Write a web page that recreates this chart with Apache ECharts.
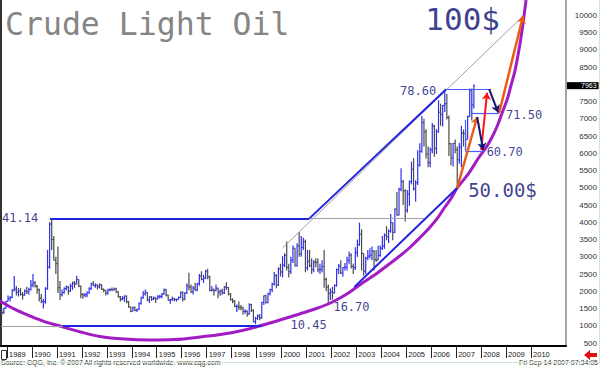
<!DOCTYPE html>
<html><head><meta charset="utf-8">
<script src="https://cdn.jsdelivr.net/npm/echarts@6/dist/echarts.min.js"></script>
<style>html,body{margin:0;padding:0;background:#fff;}#c{width:600px;height:370px;}</style>
</head><body><div id="c"></div>
<script>
// ---------- DATA (prices in cents, monthly bars Oct 1988 .. Sep 2007) ----------
const startYear = 1988, startMonth = 10;
const opens = [
 1470,1380,1510,
 1710,1790,1820,2030,2060,1970,2010,1910,1890,2010,1990,2050,
 2180,2240,2150,2040,1800,1700,1700,2070,2700,3950,3500,2900,
 2800,2100,1900,1960,2080,2120,2000,2150,2240,2210,2340,2150,
 1910,1890,1900,1950,2080,2220,2160,2180,2130,2190,2060,2030,
 1950,2030,2050,2040,2070,1990,1840,1770,1800,1860,1690,1540,
 1420,1520,1450,1470,1640,1810,1920,1970,1750,1840,1770,1810,
 1780,1840,1850,1920,2040,1890,1740,1760,1780,1760,1760,1820,
 1960,1770,1950,2150,2120,1980,2090,2040,2220,2440,2340,2380,
 2590,2420,2030,2040,2020,2090,1980,2010,1960,2120,2110,1920,
 1760,1720,1560,1560,1540,1520,1420,1420,1340,1610,1440,1120,
 1210,1280,1230,1680,1870,1680,1930,2050,2210,2450,2180,2650,
 2560,2760,3040,2690,2570,2900,3250,2740,3310,3080,3270,3440,
 2680,2870,2740,2630,2850,2840,2620,2640,2720,2340,2120,1940,
 1980,1950,2170,2630,2730,2530,2690,2700,2900,3050,2720,2690,
 3120,3350,3660,3100,2580,2960,3020,3050,3160,2920,2910,3040,
 3250,3310,3620,3580,3740,3990,3710,4380,4210,4960,5180,4910,
 4350,4820,5180,5540,4970,5150,5660,6060,6890,6620,5980,5730,
 6100,6790,6140,6630,7190,7130,7390,7440,7040,6280,5870,6290,
 6105,5814,6180,6590,6570,6400,7070,7820,7400
];
const highs = [
 1500,1520,1720,
 1880,1860,2060,2440,2150,2100,2100,1980,2050,2130,2100,2330,
 2500,2300,2180,2080,1920,1780,2120,3200,4000,4114,3600,3000,
 3300,2300,2050,2120,2170,2150,2220,2280,2300,2450,2350,2170,
 1950,1950,2000,2120,2250,2300,2230,2200,2230,2200,2080,2040,
 2070,2090,2110,2110,2100,2000,1860,1860,1880,1880,1720,1560,
 1560,1560,1500,1680,1850,2010,2050,1980,1850,1860,1850,1830,
 1890,1900,1950,2080,2070,1900,1780,1850,1810,1790,1850,1990,
 2000,1970,2230,2540,2200,2150,2250,2250,2500,2580,2480,2620,
 2650,2450,2150,2080,2200,2100,2050,2070,2150,2260,2120,1950,
 1800,1740,1620,1700,1600,1550,1480,1450,1650,1640,1480,1260,
 1330,1340,1690,1880,1900,1960,2070,2250,2560,2500,2700,2800,
 3020,3100,3440,2800,3000,3330,3250,3390,3720,3600,3550,3500,
 3200,3200,2950,2900,2960,2950,2800,2900,3200,2400,2200,2080,
 2130,2200,2660,2790,2900,2700,2820,3000,3150,3100,2800,3280,
 3500,3990,3800,3100,3000,3200,3250,3300,3200,3200,3320,3330,
 3600,3680,3890,3800,4238,4000,4400,4880,5000,5567,5230,4960,
 4940,5210,5760,5860,5220,6090,6290,7085,7000,6700,6200,6170,
 6880,6830,6700,7540,7440,7400,7860,7720,7100,6300,6300,6400,
 6200,6300,6800,6690,6700,7100,7877,7880,8000
];
const lows = [
 1300,1340,1490,
 1700,1700,1800,1990,1880,1850,1870,1760,1870,1920,1900,2020,
 2120,2110,1930,1700,1650,1500,1640,2050,2650,3200,2900,2500,
 1950,1750,1850,1930,2020,1900,1980,2040,2100,2200,2120,1800,
 1780,1830,1830,1930,2040,2150,2100,2050,2080,2040,1970,1880,
 1900,2000,2000,2020,1950,1810,1700,1740,1690,1650,1520,1390,
 1410,1420,1400,1460,1620,1780,1880,1710,1660,1720,1750,1660,
 1760,1790,1800,1900,1850,1730,1640,1720,1710,1700,1750,1800,
 1700,1740,1920,2030,1950,1910,2010,2000,2160,2320,2240,2350,
 2350,2000,1990,1880,2000,1800,1870,1890,1920,2040,1880,1730,
 1650,1540,1400,1460,1450,1320,1350,1260,1320,1400,1100,1045,
 1170,1160,1200,1600,1640,1650,1880,1970,2170,2090,2150,2430,
 2400,2700,2600,2400,2500,2820,2720,2720,3000,3000,3200,2550,
 2600,2700,2500,2550,2700,2550,2500,2550,2100,2000,1670,1750,
 1760,1940,2130,2500,2500,2420,2600,2600,2800,2660,2500,2620,
 3000,3320,2600,2450,2500,2900,2950,2900,2600,2850,2900,3000,
 3200,3230,3480,3400,3700,3480,3690,4200,4200,4900,4500,4025,
 4280,4480,5100,4920,4600,5080,5620,6020,6200,5850,5600,5600,
 6000,5900,5980,6600,6800,6780,7200,6980,5920,5655,5620,6000,
 5000,5700,5600,6200,6100,6400,7050,6950,7300
];
const closes = [
 1380,1510,1710,
 1790,1820,2030,2060,1970,2010,1910,1890,2010,1990,2050,2180,
 2240,2150,2040,1800,1700,1700,2070,2700,3950,3500,2900,2800,
 2100,1900,1960,2080,2120,2000,2150,2240,2210,2340,2150,1910,
 1890,1900,1950,2080,2220,2160,2180,2130,2190,2060,2030,1950,
 2030,2050,2040,2070,1990,1840,1770,1800,1860,1690,1540,1420,
 1520,1450,1470,1640,1810,1920,1970,1750,1840,1770,1810,1780,
 1840,1850,1920,2040,1890,1740,1760,1780,1760,1760,1820,1960,
 1770,1950,2150,2120,1980,2090,2040,2220,2440,2340,2380,2590,
 2420,2030,2040,2020,2090,1980,2010,1960,2120,2110,1920,1760,
 1720,1560,1560,1540,1520,1420,1420,1340,1610,1440,1120,1210,
 1280,1230,1680,1870,1680,1930,2050,2210,2450,2180,2650,2560,
 2760,3040,2690,2570,2900,3250,2740,3310,3080,3270,3440,2680,
 2870,2740,2630,2850,2840,2620,2640,2720,2340,2120,1940,1980,
 1950,2170,2630,2730,2530,2690,2700,2900,3050,2720,2690,3120,
 3350,3660,3100,2580,2960,3020,3050,3160,2920,2910,3040,3250,
 3310,3620,3580,3740,3990,3710,4380,4210,4960,5180,4910,4350,
 4820,5180,5540,4970,5150,5660,6060,6890,6620,5980,5730,6100,
 6790,6140,6630,7190,7130,7390,7440,7040,6280,5870,6290,6105,
 5814,6180,6590,6570,6400,7070,7820,7400,7963
];
const lastPrice = 7963;
const yearTicks = [1989,1990,1991,1992,1993,1994,1995,1996,1997,1998,1999,2000,2001,2002,2003,2004,2005,2006,2007,2008,2009,2010];
const priceTicks = [500,1000,1500,2000,2500,3000,3500,4000,4500,5000,5500,6000,6500,7000,7500,8500,9000,9500,10000];

// parabolic support curve (year, price)
const curveYears  = [1988.72,1989.3,1989.92,1990.5,1991.12,1992.0,1992.72,1993.7,1994.72,1995.7,1996.72,1998.0,1999.12,2000.0,2000.72,2001.4,2002.04,2002.7,2003.24,2003.8,2004.32,2004.8,2005.12,2005.5,2005.92,2006.25,2006.52,2006.8,2007.04,2007.5,2007.92,2008.2,2008.44,2008.65,2008.84,2009.05,2009.2,2009.35,2009.44,2009.55,2009.64,2009.72,2009.8];
const curveValues = [1718,1480,1283,1120,993,810,690,615,587,600,674,800,993,1180,1341,1500,1689,1960,2240,2510,2791,3060,3255,3520,3835,4120,4415,4700,4995,5420,5894,6170,6474,6800,7170,7580,7982,8380,8707,9150,9577,10000,10447];

// annotation segments [[year, price],[year, price]]
const blueLines = [
 [[1990.72,4114],[2001.12,4114]],
 [[1991.24,1000],[1999.2,1000]],
 [[2001.12,4114],[2006.6,7860]],
 [[2002.92,2124],[2007.04,4995]]
];
const grayLines = [
 [[1988.76,1000],[1991.24,1000]],
 [[2001.12,4114],[2005.72,4114]],
 [[2000.04,3255],[2009.68,9983]]
];
const boxLines = [
 [[2006.52,7860],[2008.4,7860]],
 [[2007.6,7150],[2008.72,7150]],
 [[2007.6,7860],[2007.6,7150]],
 [[2007.36,6970],[2007.36,6070]],
 [[2007.36,6070],[2008.12,6070]]
];
const navyArrows = [
 [[2008.32,7860],[2008.68,7190]],
 [[2007.84,7054],[2008.08,6097]]
];
const redArrows = [
 [[2008.0,6097],[2008.24,7760]]
];
const orangeArrows = [
 [[2007.04,4995],[2007.84,7054]],
 [[2008.72,7170],[2009.68,9983]]
];

// annotation texts
const noteTexts  = ['41.14','10.45','16.70','78.60','71.50','60.70','50.00$','100$'];
const noteYears  = [1988.8, 2000.36, 2002.08, 2006.2, 2009.0, 2008.22, 2007.48, 2007.26];
const noteValues = [4114, 1036, 1530, 7822, 7126, 6039, 4951, 9882];

// ---------- BUILD ----------
const noteStyle = [
 {align:'left', size:12}, {align:'left', size:12}, {align:'left', size:12}, {align:'right', size:12},
 {align:'left', size:12}, {align:'left', size:12}, {align:'left', size:19}, {align:'center', size:31}
];
function monthX(i){
  const m = startMonth - 1 + i;
  const y = startYear + Math.floor(m / 12);
  return y + ((m % 12) + 0.5) / 12;
}
const ohlc = closes.map((c, i) => [monthX(i), opens[i], highs[i], lows[i], c]);
const UP = '#2f2ff0', DOWN = '#4a4a4a', NAVY = '#0c0c74';

function linesSeries(segs, color, width, arrow){
  return {
    type:'lines', coordinateSystem:'cartesian2d', silent:true, z:5,
    symbol: arrow ? ['none','arrow'] : ['none','none'], symbolSize: arrow ? 7 : 0,
    lineStyle:{color:color, width:width, opacity:1},
    data: segs.map(s => ({coords: s}))
  };
}

const chart = echarts.init(document.getElementById('c'), null, {renderer:'svg'});
chart.setOption({
  animation:false,
  backgroundColor:'#fff',
  title:{text:'Crude Light Oil', left:0, top:3,
    textStyle:{fontFamily:'DejaVu Sans Mono', fontSize:31.5, fontWeight:'normal', color:'#858585'}},
  grid:{left:1, right:33, top:0, height:346, containLabel:false},
  xAxis:{type:'value', min:1988.76, max:2011.4, splitLine:{show:false},
    axisLine:{show:true, onZero:false, lineStyle:{color:'#000', width:2}},
    axisTick:{show:true, customValues:yearTicks, length:12, lineStyle:{color:'#222', width:1}},
    axisLabel:{show:true, customValues:yearTicks, align:'left', margin:4, padding:[0,0,0,2],
      fontFamily:'Liberation Sans', fontSize:7.5, color:'#222', formatter: v => String(v)}},
  yAxis:[
    {type:'value', position:'right', min:413, max:10447, splitLine:{show:false},
      axisLine:{show:true, lineStyle:{color:'#8a8a8a', width:1.5}}, axisTick:{show:false},
      axisLabel:{customValues:priceTicks, align:'right', margin:31, fontFamily:'Liberation Sans',
        fontSize:8, color:'#333', formatter: v => String(v)}},
    {type:'value', position:'left', min:413, max:10447, splitLine:{show:false},
      axisLine:{show:true, lineStyle:{color:'#333', width:2}}, axisTick:{show:false}, axisLabel:{show:false}}
  ],
  graphic:[
    {type:'text', left:1, top:359, style:{text:'Source: CQG, Inc. \u00a9 2007 All rights reserved worldwide. www.cqg.com', font:'7px "Liberation Sans"', fill:'#333'}},
    {type:'text', right:2, top:359, style:{text:'Fri Sep 14 2007 07:34:05', font:'7px "Liberation Sans"', fill:'#333'}},
    {type:'polygon', shape:{points:[[584,355],[590,350],[590,353],[597,353],[597,357],[590,357],[590,360]]}, style:{fill:'#e01010'}},
    {type:'rect', shape:{x:1.5,y:350.5,width:5,height:9}, style:{stroke:'#333', fill:'none', lineWidth:1}},
    {type:'line', shape:{x1:0,y1:362.5,x2:600,y2:362.5}, style:{stroke:'#cfe6cf', lineWidth:1}},
    {type:'line', shape:{x1:599.5,y1:0,x2:599.5,y2:362}, style:{stroke:'#cfe6cf', lineWidth:1}}
  ],
  series:[
    {type:'custom', name:'bars', xAxisIndex:0, yAxisIndex:0, data:ohlc, encode:{x:0, y:[1,2,3,4]}, z:3,
      renderItem:function(params, api){
        const x = api.value(0), o = api.value(1), h = api.value(2), l = api.value(3), c = api.value(4);
        const pH = api.coord([x,h]), pL = api.coord([x,l]), pO = api.coord([x,o]), pC = api.coord([x,c]);
        const col = c >= o ? UP : DOWN;
        return {type:'group', children:[
          {type:'line', shape:{x1:pH[0],y1:pH[1],x2:pL[0],y2:pL[1]}, style:{stroke:col, lineWidth:1.2}},
          {type:'line', shape:{x1:pO[0]-1.2,y1:pO[1],x2:pO[0],y2:pO[1]}, style:{stroke:col, lineWidth:1}},
          {type:'line', shape:{x1:pC[0],y1:pC[1],x2:pC[0]+1.2,y2:pC[1]}, style:{stroke:col, lineWidth:1}}
        ]};
      }},
    {type:'line', name:'curve', data:curveYears.map((y,i)=>[y, curveValues[i]]), smooth:0.35,
      showSymbol:false, z:4, lineStyle:{color:'#a21cc4', width:3}, clip:true,
      markLine:{silent:true, symbol:['none','none'], lineStyle:{color:'rgba(0,0,0,0)', width:0},
        label:{show:true, position:'end', formatter:String(lastPrice), backgroundColor:'#000', color:'#fff',
          fontFamily:'Liberation Sans', fontSize:7, lineHeight:7, padding:[0,2,0,14], distance:1},
        data:[{yAxis:lastPrice}]}},
    linesSeries(grayLines, '#a0a0a0', 1, false),
    linesSeries(blueLines, '#2323e0', 2, false),
    linesSeries(boxLines, '#4a5cff', 1.2, false),
    linesSeries(orangeArrows, '#ec5a14', 2.5, true),
    linesSeries(redArrows, '#ff1414', 2, true),
    linesSeries(navyArrows, '#14147a', 2, true),
    {type:'scatter', name:'notes', symbolSize:0, z:6, silent:true,
      data: noteTexts.map((t,i)=>({value:[noteYears[i], noteValues[i]],
        label:{show:true, position:'inside', formatter:t, align:noteStyle[i].align, verticalAlign:'middle',
          fontFamily:'DejaVu Sans Mono', fontSize:noteStyle[i].size, color:NAVY}}))}
  ]
});
</script>
</body></html>
